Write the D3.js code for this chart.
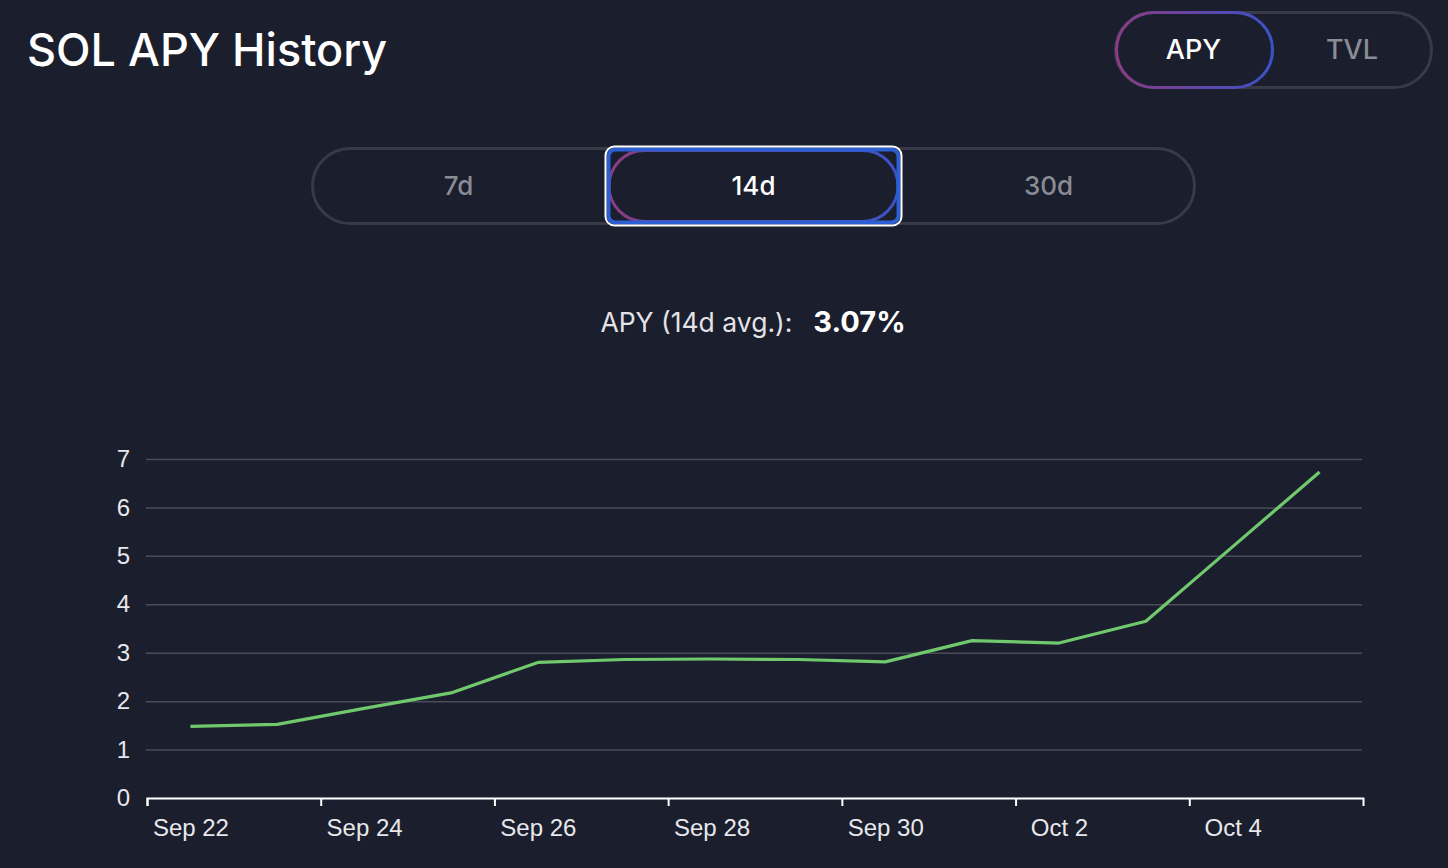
<!DOCTYPE html>
<html>
<head>
<meta charset="utf-8">
<script src="https://cdn.jsdelivr.net/npm/d3@7"></script>
<style>
  html, body { margin: 0; padding: 0; background: #1a1e2d; }
  svg { display: block; }
</style>
</head>
<body>
<svg id="chart" width="1448" height="868"></svg>
<script>
// data
const days = ['2023-09-22T12:00', '2023-09-23T12:00', '2023-09-24T12:00', '2023-09-25T12:00',
              '2023-09-26T12:00', '2023-09-27T12:00', '2023-09-28T12:00', '2023-09-29T12:00',
              '2023-09-30T12:00', '2023-10-01T12:00', '2023-10-02T12:00', '2023-10-03T12:00',
              '2023-10-04T12:00', '2023-10-05T12:00'];
const apy = [1.48, 1.52, 1.85, 2.17, 2.80, 2.86, 2.87, 2.86, 2.81, 3.25, 3.20, 3.65, 5.19, 6.73];
const xTickDays = ['2023-09-22', '2023-09-24', '2023-09-26', '2023-09-28', '2023-09-30', '2023-10-02', '2023-10-04'];
const yTicks = [0, 1, 2, 3, 4, 5, 6, 7];
const metrics = ['APY', 'TVL'];
const periods = ['7d', '14d', '30d'];
const activeMetric = 'APY';
const activePeriod = '14d';
const avgLabel = 'APY (14d avg.):';
const avgValue = '3.07%';

const bg = '#1a1e2d';
const uiFont = 'Inter, "Noto Sans", sans-serif';
const axisFont = '"Liberation Sans", Arial, sans-serif';

const svg = d3.select('#chart');

const defs = svg.append('defs');
const grad = defs.append('linearGradient')
    .attr('id', 'pillGrad')
    .attr('x1', '0%').attr('x2', '100%').attr('y1', '0%').attr('y2', '0%');
grad.append('stop').attr('offset', '0%').attr('stop-color', '#8c3c84');
grad.append('stop').attr('offset', '100%').attr('stop-color', '#3b52c6');

// title
svg.append('text')
    .attr('x', 27)
    .attr('y', 66)
    .style('font-family', uiFont)
    .style('font-size', '45px')
    .style('font-weight', 500)
    .attr('fill', '#ffffff')
    .text('SOL APY History');

// metric toggle (APY / TVL)
const toggleLeft = 1115, toggleRight = 1432, pillW = 157;
const toggle = svg.append('g');
toggle.append('rect')
    .attr('x', toggleLeft + 0.5).attr('y', 12.5)
    .attr('width', toggleRight - toggleLeft - 1).attr('height', 75)
    .attr('rx', 37.5)
    .attr('fill', 'none')
    .attr('stroke', '#393a47')
    .attr('stroke-width', 3);
toggle.append('rect')
    .attr('x', toggleLeft + 1.5).attr('y', 12.5)
    .attr('width', pillW - 1).attr('height', 75)
    .attr('rx', 37.5)
    .attr('fill', bg)
    .attr('stroke', 'url(#pillGrad)')
    .attr('stroke-width', 3);
toggle.selectAll('text.metric')
    .data(metrics)
    .enter().append('text')
    .attr('class', 'metric')
    .attr('x', function(d) {
        return d === activeMetric ? toggleLeft + pillW / 2 : (toggleLeft + pillW + toggleRight) / 2;
    })
    .attr('y', 59)
    .attr('text-anchor', 'middle')
    .style('font-family', uiFont)
    .style('font-size', '27px')
    .style('font-weight', 500)
    .attr('fill', function(d) { return d === activeMetric ? '#ffffff' : '#8a8c95'; })
    .text(function(d) { return d; });

// period selector
const px = d3.scaleBand().domain(periods).range([311, 1196]);
const seg = svg.append('g');
seg.append('rect')
    .attr('x', 312.5).attr('y', 148.5)
    .attr('width', 882).attr('height', 75)
    .attr('rx', 37.5)
    .attr('fill', 'none')
    .attr('stroke', '#393a47')
    .attr('stroke-width', 3);
const ax = px(activePeriod);
seg.append('rect')
    .attr('x', ax + 3).attr('y', 150.5)
    .attr('width', px.bandwidth() - 6).attr('height', 71)
    .attr('rx', 35.5)
    .attr('fill', bg)
    .attr('stroke', 'url(#pillGrad)')
    .attr('stroke-width', 3);
// focus ring
seg.append('rect')
    .attr('x', ax + 2.5).attr('y', 149.5)
    .attr('width', px.bandwidth() - 5).attr('height', 73)
    .attr('rx', 7)
    .attr('fill', 'none')
    .attr('stroke', '#2c5fd3')
    .attr('stroke-width', 4);
seg.append('rect')
    .attr('x', ax - 0.5).attr('y', 146.5)
    .attr('width', px.bandwidth() + 1).attr('height', 79)
    .attr('rx', 9)
    .attr('fill', 'none')
    .attr('stroke', '#ffffff')
    .attr('stroke-width', 2);
seg.selectAll('text.period')
    .data(periods)
    .enter().append('text')
    .attr('class', 'period')
    .attr('x', function(d) { return px(d) + px.bandwidth() / 2; })
    .attr('y', 195)
    .attr('text-anchor', 'middle')
    .style('font-family', uiFont)
    .style('font-size', '26px')
    .style('font-weight', 500)
    .attr('fill', function(d) { return d === activePeriod ? '#ffffff' : '#8a8c95'; })
    .text(function(d) { return d; });

// average readout
const avg = svg.append('text')
    .attr('x', 753)
    .attr('y', 332)
    .attr('text-anchor', 'middle')
    .style('font-family', uiFont);
avg.append('tspan')
    .style('font-size', '26.5px')
    .attr('fill', '#e4e4e8')
    .text(avgLabel);
avg.append('tspan')
    .attr('dx', 21)
    .style('font-size', '29px')
    .style('font-weight', 700)
    .attr('fill', '#ffffff')
    .text(avgValue);

// chart
const parseT = d3.timeParse('%Y-%m-%dT%H:%M');
const parseD = d3.timeParse('%Y-%m-%d');
const points = days.map(function(d, i) { return {date: parseT(d), value: apy[i]}; });
const tickDates = xTickDays.map(parseD);

const margin = {left: 147, right: 1363, top: 459, bottom: 798};
const x = d3.scaleTime()
    .domain([parseD('2023-09-22'), parseD('2023-10-06')])
    .range([margin.left, margin.right]);
const y = d3.scaleLinear()
    .domain([0, 7])
    .range([margin.bottom, margin.top]);
const halfDay = (x(parseD('2023-09-23')) - x(parseD('2023-09-22'))) / 2;

const yAxis = svg.append('g')
    .attr('transform', 'translate(' + (margin.left - 1) + ',0)')
    .call(d3.axisLeft(y)
        .tickValues(yTicks)
        .tickSize(-(margin.right - margin.left))
        .tickPadding(16)
        .tickFormat(d3.format('d')));
yAxis.select('.domain').remove();
yAxis.selectAll('.tick line')
    .attr('stroke', '#4a4c57')
    .attr('stroke-width', 1.5);
yAxis.selectAll('.tick text')
    .attr('fill', '#e8e8ec')
    .style('font-family', axisFont)
    .style('font-size', '24px');

const xAxis = svg.append('g')
    .attr('transform', 'translate(0,' + margin.bottom + ')')
    .call(d3.axisBottom(x)
        .tickValues(tickDates)
        .tickSizeInner(8)
        .tickSizeOuter(8)
        .tickPadding(13)
        .tickFormat(d3.timeFormat('%b %-d')));
xAxis.select('.domain')
    .attr('stroke', '#ffffff')
    .attr('stroke-width', 2);
xAxis.selectAll('.tick line')
    .attr('stroke', '#ffffff')
    .attr('stroke-width', 2);
xAxis.selectAll('.tick text')
    .attr('x', halfDay)
    .attr('fill', '#e8e8ec')
    .style('font-family', axisFont)
    .style('font-size', '24px');

const line = d3.line()
    .x(function(d) { return x(d.date); })
    .y(function(d) { return y(d.value); });

svg.append('path')
    .datum(points)
    .attr('d', line)
    .attr('fill', 'none')
    .attr('stroke', '#70c96d')
    .attr('stroke-width', 3.2)
    .attr('stroke-linejoin', 'round');
</script>
</body>
</html>
